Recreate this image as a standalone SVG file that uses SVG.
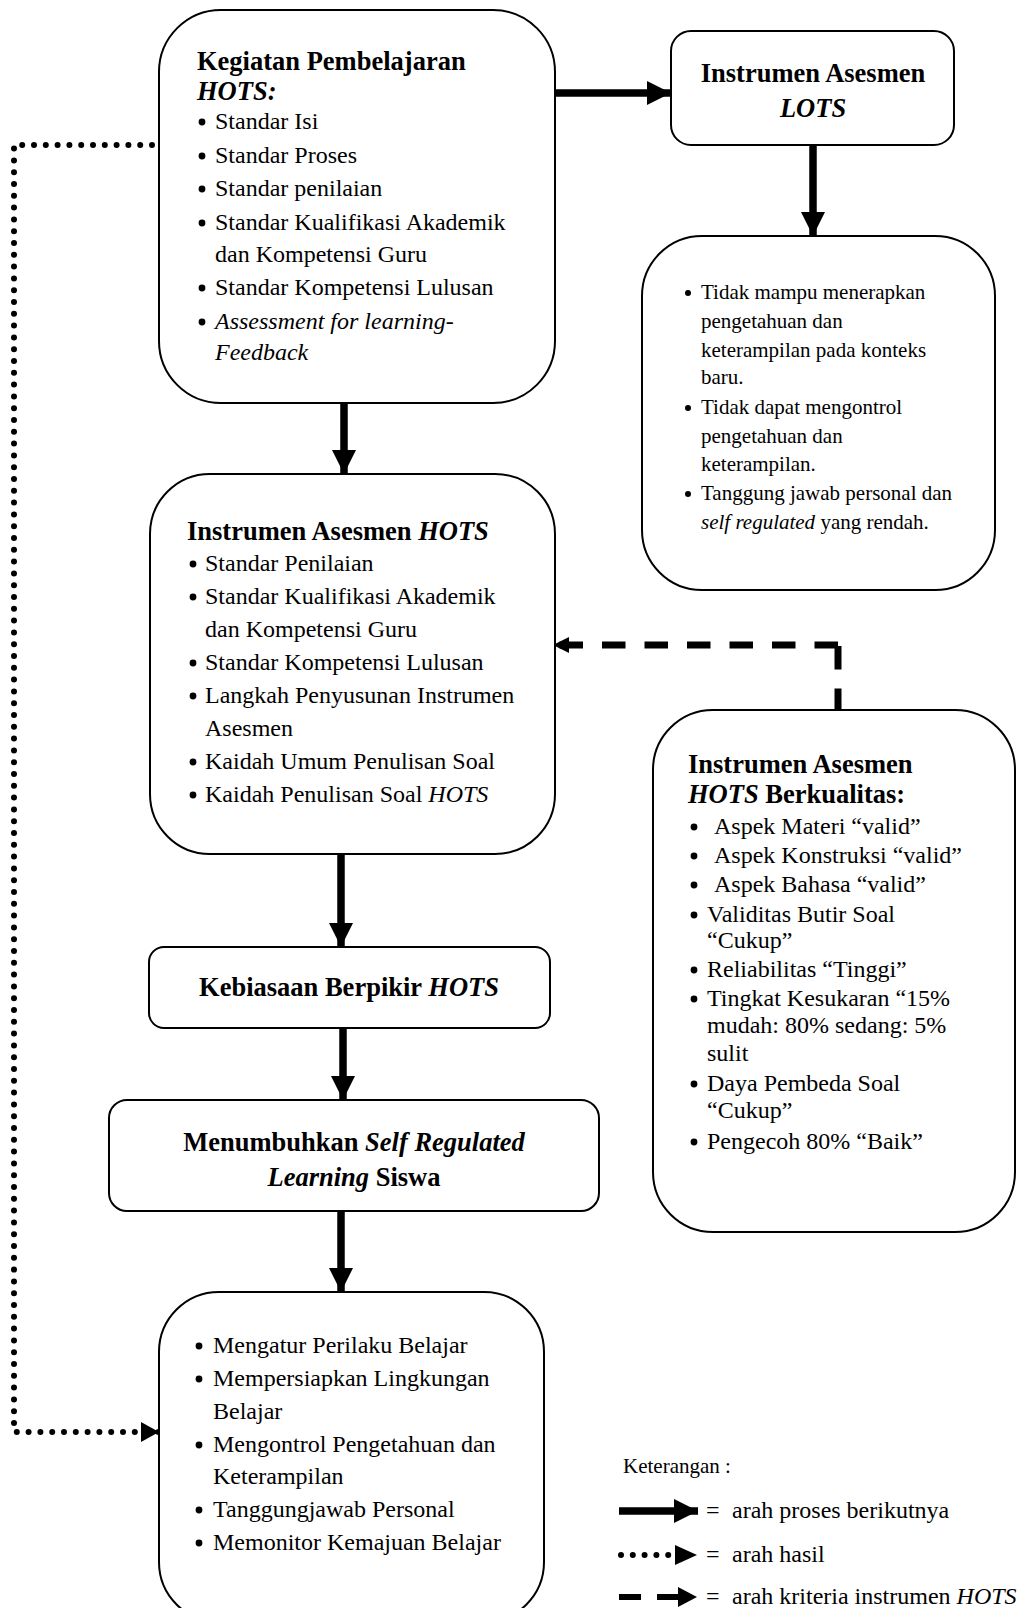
<svg xmlns="http://www.w3.org/2000/svg" width="1020" height="1608" viewBox="0 0 1020 1608">
<style>
  .box { fill: #fff; stroke: #000; stroke-width: 2; }
  text { font-family: "Liberation Serif", "Times New Roman", serif; fill: #000; }
  .b24 { font-size: 24px; }
  .b21 { font-size: 21px; }
  .t { font-size: 26.5px; font-weight: bold; }
  .i { font-style: italic; }
  .ctr { text-anchor: middle; }
  .bul { fill: #000; }
  .solid { stroke: #000; stroke-width: 7.5; fill: none; }
  .dash { stroke: #000; stroke-width: 7; fill: none; stroke-dasharray: 23.5 19; }
  .dot { stroke: #000; stroke-width: 6; fill: none; stroke-dasharray: 0 11.8; stroke-linecap: round; }
</style>
<defs>
  <marker id="hBig" markerUnits="userSpaceOnUse" markerWidth="26" markerHeight="26" refX="24" refY="12" orient="auto">
    <path d="M0,0 L24,12 L0,24 Z" fill="#000"/>
  </marker>
  <marker id="hDash" markerUnits="userSpaceOnUse" markerWidth="18" markerHeight="18" refX="16" refY="8" orient="auto">
    <path d="M0,0 L16,8 L0,16 Z" fill="#000"/>
  </marker>
  <marker id="hDot" markerUnits="userSpaceOnUse" markerWidth="20" markerHeight="22" refX="18" refY="10" orient="auto">
    <path d="M0,0 L18,10 L0,20 Z" fill="#000"/>
  </marker>
</defs>

<g id="connectors">
  <line class="solid" x1="555" y1="93" x2="671" y2="93" marker-end="url(#hBig)"/>
  <line class="solid" x1="813" y1="145" x2="813" y2="236" marker-end="url(#hBig)"/>
  <line class="solid" x1="344" y1="403" x2="344" y2="474" marker-end="url(#hBig)"/>
  <line class="solid" x1="341" y1="854" x2="341" y2="947" marker-end="url(#hBig)"/>
  <line class="solid" x1="343" y1="1028" x2="343" y2="1100" marker-end="url(#hBig)"/>
  <line class="solid" x1="341" y1="1211" x2="341" y2="1292" marker-end="url(#hBig)"/>
  <path class="dash" d="M838,712 V645"/>
  <path class="dash" d="M838,645 H553" marker-end="url(#hDash)"/>
  <path class="dot" d="M152,145 H14 V1432 H159" marker-end="url(#hDot)"/>
</g>

<g id="kegiatan">
  <rect class="box" x="159" y="10" width="396" height="393" rx="62"/>
  <text class="t" x="197" y="70">Kegiatan Pembelajaran</text>
  <text class="t i" x="197" y="100">HOTS:</text>
  <g class="bul">
    <circle cx="202" cy="122" r="3.4"/><circle cx="202" cy="156" r="3.4"/><circle cx="202" cy="189" r="3.4"/>
    <circle cx="202" cy="223" r="3.4"/><circle cx="202" cy="288" r="3.4"/><circle cx="202" cy="322" r="3.4"/>
  </g>
  <g class="b24">
    <text x="215" y="129">Standar Isi</text>
    <text x="215" y="163">Standar Proses</text>
    <text x="215" y="196">Standar penilaian</text>
    <text x="215" y="230">Standar Kualifikasi Akademik</text>
    <text x="215" y="262">dan Kompetensi Guru</text>
    <text x="215" y="295">Standar Kompetensi Lulusan</text>
    <text x="215" y="329" class="i">Assessment for learning-</text>
    <text x="215" y="360" class="i">Feedback</text>
  </g>
</g>

<g id="lots">
  <rect class="box" x="671" y="31" width="283" height="114" rx="20"/>
  <text class="t ctr" x="813" y="82">Instrumen Asesmen</text>
  <text class="t ctr i" x="813" y="117">LOTS</text>
</g>

<g id="lots-hasil">
  <rect class="box" x="642" y="236" width="353" height="354" rx="60"/>
  <g class="bul">
    <circle cx="688" cy="293" r="3"/><circle cx="688" cy="408" r="3"/><circle cx="688" cy="494" r="3"/>
  </g>
  <g class="b21">
    <text x="701" y="299">Tidak mampu menerapkan</text>
    <text x="701" y="328">pengetahuan dan</text>
    <text x="701" y="357">keterampilan pada konteks</text>
    <text x="701" y="384">baru.</text>
    <text x="701" y="414">Tidak dapat mengontrol</text>
    <text x="701" y="443">pengetahuan dan</text>
    <text x="701" y="471">keterampilan.</text>
    <text x="701" y="500">Tanggung jawab personal dan</text>
    <text x="701" y="529"><tspan class="i">self regulated</tspan> yang rendah.</text>
  </g>
</g>

<g id="hots">
  <rect class="box" x="150" y="474" width="405" height="380" rx="60"/>
  <text class="t" x="187" y="540">Instrumen Asesmen <tspan class="i">HOTS</tspan></text>
  <g class="bul">
    <circle cx="193" cy="564" r="3.4"/><circle cx="193" cy="597" r="3.4"/><circle cx="193" cy="663" r="3.4"/>
    <circle cx="193" cy="696" r="3.4"/><circle cx="193" cy="762" r="3.4"/><circle cx="193" cy="795" r="3.4"/>
  </g>
  <g class="b24">
    <text x="205" y="571">Standar Penilaian</text>
    <text x="205" y="604">Standar Kualifikasi Akademik</text>
    <text x="205" y="637">dan Kompetensi Guru</text>
    <text x="205" y="670">Standar Kompetensi Lulusan</text>
    <text x="205" y="703">Langkah Penyusunan Instrumen</text>
    <text x="205" y="736">Asesmen</text>
    <text x="205" y="769">Kaidah Umum Penulisan Soal</text>
    <text x="205" y="802">Kaidah Penulisan Soal <tspan class="i">HOTS</tspan></text>
  </g>
</g>

<g id="berkualitas">
  <rect class="box" x="653" y="710" width="362" height="522" rx="60"/>
  <text class="t" x="688" y="773">Instrumen Asesmen</text>
  <text class="t" x="688" y="803"><tspan class="i">HOTS</tspan> Berkualitas:</text>
  <g class="bul">
    <circle cx="694" cy="827" r="3.4"/><circle cx="694" cy="856" r="3.4"/><circle cx="694" cy="885" r="3.4"/>
    <circle cx="694" cy="915" r="3.4"/><circle cx="694" cy="970" r="3.4"/><circle cx="694" cy="999" r="3.4"/>
    <circle cx="694" cy="1084" r="3.4"/><circle cx="694" cy="1142" r="3.4"/>
  </g>
  <g class="b24">
    <text x="714" y="834">Aspek Materi “valid”</text>
    <text x="714" y="863">Aspek Konstruksi “valid”</text>
    <text x="714" y="892">Aspek Bahasa “valid”</text>
    <text x="707" y="922">Validitas Butir Soal</text>
    <text x="707" y="948">“Cukup”</text>
    <text x="707" y="977">Reliabilitas “Tinggi”</text>
    <text x="707" y="1006">Tingkat Kesukaran “15%</text>
    <text x="707" y="1033">mudah: 80% sedang: 5%</text>
    <text x="707" y="1061">sulit</text>
    <text x="707" y="1091">Daya Pembeda Soal</text>
    <text x="707" y="1118">“Cukup”</text>
    <text x="707" y="1149">Pengecoh 80% “Baik”</text>
  </g>
</g>

<g id="kebiasaan">
  <rect class="box" x="149" y="947" width="401" height="81" rx="15"/>
  <text class="t ctr" x="349" y="996">Kebiasaan Berpikir <tspan class="i">HOTS</tspan></text>
</g>

<g id="menumbuhkan">
  <rect class="box" x="109" y="1100" width="490" height="111" rx="18"/>
  <text class="t ctr" x="354" y="1151">Menumbuhkan <tspan class="i">Self Regulated</tspan></text>
  <text class="t ctr" x="354" y="1186"><tspan class="i">Learning</tspan> Siswa</text>
</g>

<g id="srl">
  <rect class="box" x="159" y="1292" width="385" height="330" rx="60"/>
  <g class="bul">
    <circle cx="199" cy="1346" r="3.4"/><circle cx="199" cy="1379" r="3.4"/><circle cx="199" cy="1445" r="3.4"/>
    <circle cx="199" cy="1510" r="3.4"/><circle cx="199" cy="1543" r="3.4"/>
  </g>
  <g class="b24">
    <text x="213" y="1353">Mengatur Perilaku Belajar</text>
    <text x="213" y="1386">Mempersiapkan Lingkungan</text>
    <text x="213" y="1419">Belajar</text>
    <text x="213" y="1452">Mengontrol Pengetahuan dan</text>
    <text x="213" y="1484">Keterampilan</text>
    <text x="213" y="1517">Tanggungjawab Personal</text>
    <text x="213" y="1550">Memonitor Kemajuan Belajar</text>
  </g>
</g>

<g id="legend">
  <text class="b21" x="623" y="1473">Keterangan :</text>
  <line class="solid" x1="619" y1="1511" x2="698" y2="1511" marker-end="url(#hBig)"/>
  <text class="b24" x="706" y="1518">=<tspan x="732">arah proses berikutnya</tspan></text>
  <line class="dot" stroke-width="5" stroke-dasharray="0 12" x1="621" y1="1555" x2="670" y2="1555"/>
  <path d="M675,1545 L697,1555 L675,1565 Z" fill="#000"/>
  <text class="b24" x="706" y="1562">=<tspan x="732">arah hasil</tspan></text>
  <line stroke="#000" stroke-width="6" x1="619" y1="1597" x2="641" y2="1597"/>
  <line stroke="#000" stroke-width="6" x1="657" y1="1597" x2="681" y2="1597"/>
  <path d="M678,1587 L697,1597 L678,1607 Z" fill="#000"/>
  <text class="b24" x="706" y="1604">=<tspan x="732">arah kriteria instrumen <tspan class="i">HOTS</tspan></tspan></text>
</g>
</svg>
